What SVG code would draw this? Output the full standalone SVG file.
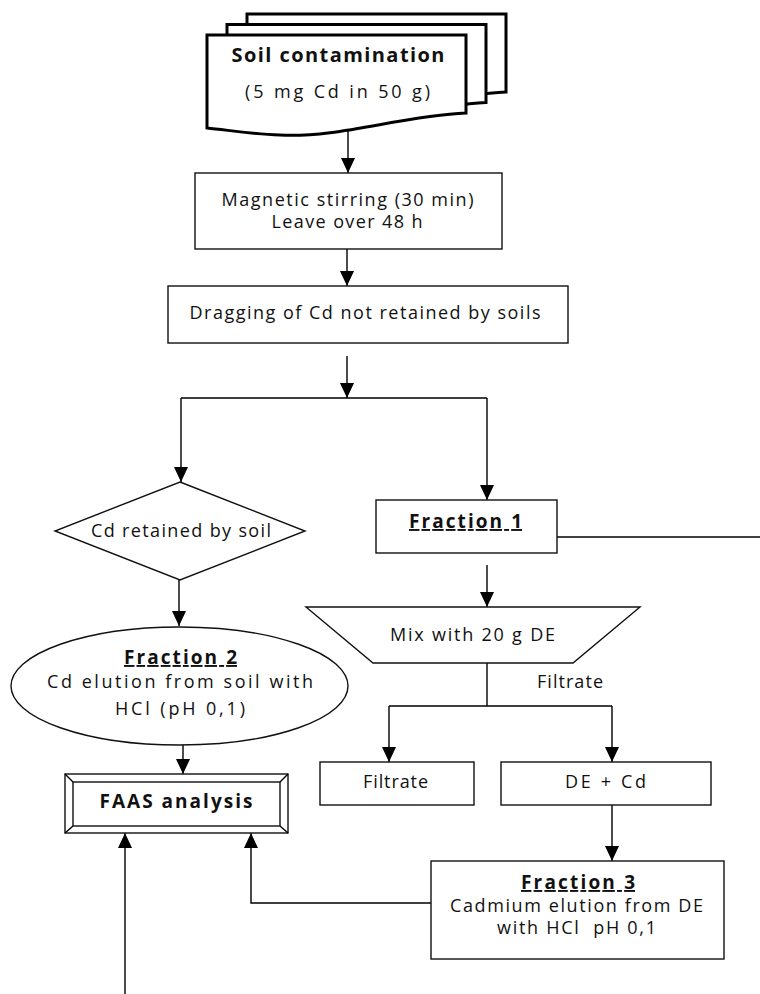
<svg xmlns="http://www.w3.org/2000/svg" width="760" height="994" viewBox="0 0 760 994">
<style>
text{font-family:"Open Sans","DejaVu Sans",sans-serif;font-size:18px;fill:#111;text-anchor:middle}
.b{font-weight:bold;font-size:19px}
.u{text-decoration:underline}
.box{fill:#fff;stroke:#111;stroke-width:1.4}
.doc{fill:#fff;stroke:#000;stroke-width:3;stroke-linejoin:miter}
.ln{fill:none;stroke:#000;stroke-width:1.4}
.ar{fill:none;stroke:#000;stroke-width:1.4;marker-end:url(#ah)}
</style>
<defs>
<marker id="ah" viewBox="0 0 15 14" refX="15" refY="7" markerWidth="15" markerHeight="14" markerUnits="userSpaceOnUse" orient="auto">
<path d="M0,0 L15,7 L0,14 Z" fill="#000"/>
</marker>
<path id="docshape" d="M207,35 H466 V113 C400,116 340,138 280,135 C250,134 228,130 207,128 Z"/>
</defs>
<rect width="760" height="994" fill="#fff"/>

<g id="connectors">
<path class="ar" d="M348,130 V173"/>
<path class="ar" d="M347,249 V286"/>
<path class="ar" d="M347,356 V398"/>
<path class="ln" d="M181,398 H487"/>
<path class="ar" d="M181,398 V482"/>
<path class="ar" d="M487,398 V500"/>
<path class="ln" d="M552,537 H760"/>
<path class="ar" d="M487,565 V607"/>
<path class="ar" d="M179,580 V626"/>
<path class="ar" d="M183,731 V774"/>
<path class="ln" d="M487,663 V706"/>
<path class="ln" d="M389,706 H612"/>
<path class="ar" d="M389,706 V762"/>
<path class="ar" d="M612,706 V762"/>
<path class="ar" d="M612,805 V861"/>
<path class="ar" d="M431,903 H251 V833"/>
<path class="ar" d="M125,994 V833"/>
<text x="570" y="688" textLength="66" lengthAdjust="spacing">Filtrate</text>
</g>

<g id="soil-contamination">
<use href="#docshape" class="doc" transform="translate(40,-21)"/>
<use href="#docshape" class="doc" transform="translate(20,-10.5)"/>
<use href="#docshape" class="doc"/>
<text class="b" x="338" y="62" style="font-size:20px" textLength="213" lengthAdjust="spacing">Soil contamination</text>
<text x="337.5" y="98" textLength="185" lengthAdjust="spacing">(5 mg Cd in 50 g)</text>
</g>

<g id="magnetic-stirring">
<rect class="box" x="195" y="173" width="307" height="76"/>
<text x="347.5" y="206" textLength="252" lengthAdjust="spacing">Magnetic stirring (30 min)</text>
<text x="347" y="228" textLength="151" lengthAdjust="spacing">Leave over 48 h</text>
</g>

<g id="dragging">
<rect class="box" x="168" y="286" width="400" height="57"/>
<text x="365" y="319" textLength="351" lengthAdjust="spacing">Dragging of Cd not retained by soils</text>
</g>

<g id="cd-retained">
<polygon class="box" points="180,482 305,531 180,580 55,531"/>
<text x="181" y="537" textLength="180" lengthAdjust="spacing">Cd retained by soil</text>
</g>

<g id="fraction-1">
<rect class="box" x="376" y="500" width="181" height="53"/>
<text class="b u" x="465.5" y="528" textLength="113" lengthAdjust="spacing">Fraction 1</text>
</g>

<g id="mix-de">
<polygon class="box" points="306,607 640,607 573,663 373,663"/>
<text x="472.5" y="641" textLength="165" lengthAdjust="spacing">Mix with 20 g DE</text>
</g>

<g id="fraction-2">
<ellipse class="box" cx="179.5" cy="686" rx="168.5" ry="59"/>
<text class="b u" x="180.5" y="664" textLength="113" lengthAdjust="spacing">Fraction 2</text>
<text x="180" y="688" textLength="266" lengthAdjust="spacing">Cd elution from soil with</text>
<text x="180" y="715" textLength="130" lengthAdjust="spacing">HCl (pH 0,1)</text>
</g>

<g id="filtrate">
<rect class="box" x="320" y="762" width="154" height="43"/>
<text x="395.5" y="788" textLength="65" lengthAdjust="spacing">Filtrate</text>
</g>

<g id="de-cd">
<rect class="box" x="501" y="762" width="210" height="43"/>
<text x="605.5" y="788" textLength="81" lengthAdjust="spacing">DE + Cd</text>
</g>

<g id="faas">
<rect class="box" x="65" y="774" width="223" height="59"/>
<rect class="box" x="73" y="782" width="207" height="44"/>
<path class="ln" d="M65,774 L73,782 M288,774 L280,782 M65,833 L73,826 M288,833 L280,826"/>
<text class="b" x="176" y="808" textLength="153" lengthAdjust="spacing">FAAS analysis</text>
</g>

<g id="fraction-3">
<rect class="box" x="431" y="861" width="293" height="98"/>
<text class="b u" x="578" y="889" textLength="114" lengthAdjust="spacing">Fraction 3</text>
<text x="576.5" y="912" textLength="253" lengthAdjust="spacing">Cadmium elution from DE</text>
<text x="576.5" y="934" style="white-space:pre" textLength="159" lengthAdjust="spacing">with HCl  pH 0,1</text>
</g>
</svg>
